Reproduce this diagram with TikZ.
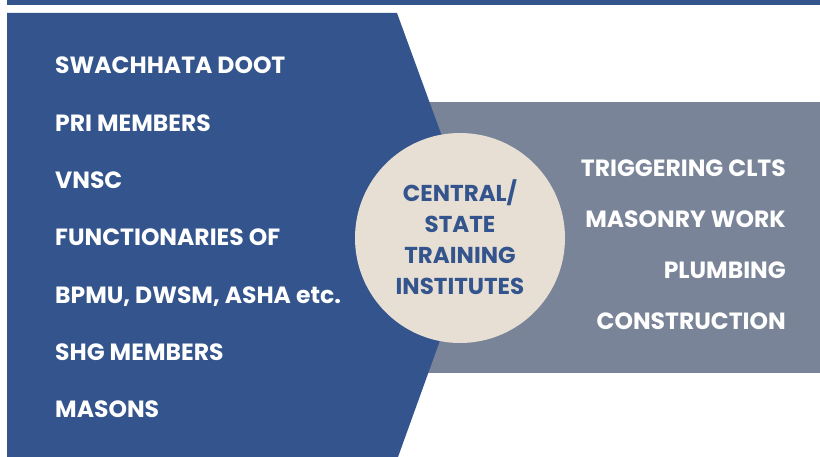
\documentclass[tikz,border=0pt]{standalone}
\usepackage{fontspec}
\setmainfont{Poppins}
\usetikzlibrary{positioning}
\definecolor{navy}{HTML}{33548C}
\definecolor{slate}{HTML}{7A8498}
\definecolor{sand}{HTML}{E8DFD4}
\tikzset{
    x=1pt,y=-1pt,
    lefttext/.style={anchor=base west, text=white, font=\bfseries\fontsize{23.5}{23.5}\selectfont, inner sep=0pt},
    righttext/.style={anchor=base east, text=white, font=\bfseries\fontsize{23.5}{23.5}\selectfont, inner sep=0pt},
    hubtext/.style={align=center, text=navy, font=\bfseries\fontsize{23}{31}\selectfont, inner sep=0pt}
}
\begin{document}
\begin{tikzpicture}
    \useasboundingbox (0,0) rectangle (820,457);
    % top rule and the two panels
    \fill[navy] (7,0) rectangle (820,5);
    \fill[slate] (420,102) rectangle (820,373);
    \fill[navy] (7,13) -- (397,13) -- (478,235) -- (398,457) -- (7,457) -- cycle;
    \fill[sand] (460,238) circle (105);

    % who gets trained
    \node[lefttext] (doot) at (55,74) {SWACHHATA DOOT};
    \node[lefttext] (pri) at (55,131.3) {PRI MEMBERS};
    \node[lefttext] (vnsc) at (55,188.6) {VNSC};
    \node[lefttext] (func) at (55,245.9) {FUNCTIONARIES OF};
    \node[lefttext] (bpmu) at (55,303.2) {BPMU, DWSM, ASHA etc.};
    \node[lefttext] (shg) at (55,360.5) {SHG MEMBERS};
    \node[lefttext] (masons) at (55,417.8) {MASONS};

    % centre
    \node[hubtext] (hub) at (460,237) {CENTRAL/\\STATE\\TRAINING\\INSTITUTES};

    % what is taught
    \node[righttext] (clts) at (786,177) {TRIGGERING CLTS};
    \node[righttext] (masonry) at (786,228) {MASONRY WORK};
    \node[righttext] (plumb) at (786,279) {PLUMBING};
    \node[righttext] (constr) at (786,330) {CONSTRUCTION};
\end{tikzpicture}
\end{document}
